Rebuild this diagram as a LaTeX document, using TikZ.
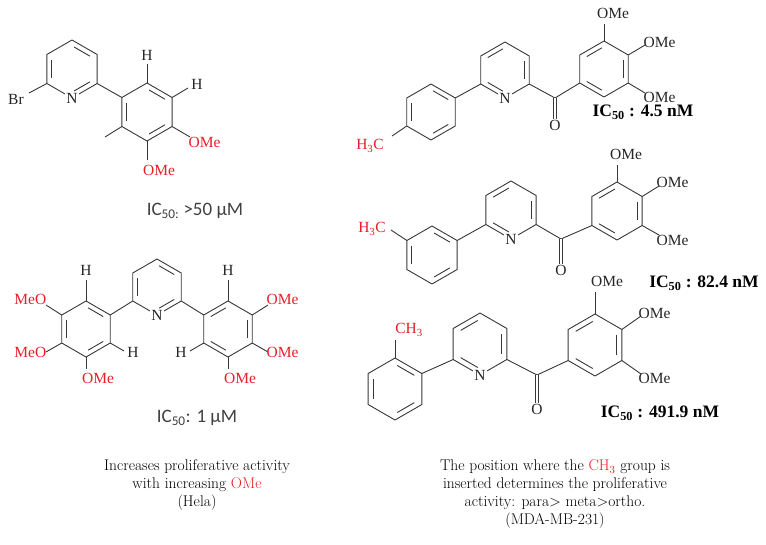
\documentclass[tikz,border=0pt]{standalone}
\usepackage{fontspec}
\usetikzlibrary{calc}
\newfontfamily\chemf{Liberation Serif}
\newfontfamily\capf{Carlito}
\definecolor{bondc}{RGB}{55,55,55}
\definecolor{chemred}{RGB}{232,30,40}
\tikzset{
 bond/.style={draw=bondc,line width=0.9pt},
 lab/.style={font=\chemf\fontsize{15.5}{16}\selectfont,text=black!85,inner sep=0.5pt},
 rlab/.style={lab,text=chemred},
 nlab/.style={lab,fill=white,inner sep=1pt},
 icb/.style={font=\chemf\bfseries\fontsize{17.5}{18}\selectfont,inner sep=0pt},
 icsans/.style={font=\capf\fontsize{19}{20}\selectfont,text=black!75,inner sep=0pt},
 capt/.style={font=\fontsize{15.5}{17.7}\selectfont,align=center,inner sep=0pt}
}
\newcommand\hexr[5]{%
 \coordinate (#1-c) at (#2,#3);
 \foreach \k in {0,...,5}{\coordinate (#1-\k) at ({#2+#4*sin(60*\k)},{#3-#4*cos(60*\k)});}
 \draw[bond,line join=round] (#1-0)--(#1-1)--(#1-2)--(#1-3)--(#1-4)--(#1-5)--cycle;
 \foreach \k in {#5}{\pgfmathtruncatemacro\kk{mod(\k+1,6)}%
  \draw[bond,shorten <=2.5pt,shorten >=2.5pt] ($(#1-c)!0.8!(#1-\k)$)--($(#1-c)!0.8!(#1-\kk)$);}
}
\begin{document}
\begin{tikzpicture}[x=1pt,y=-1pt]
\useasboundingbox (0,0) rectangle (766,544);
% ---------- molecule 1
\hexr{a}{72}{69}{29}{0,2,4}
\hexr{b}{147}{112}{29}{0,2,4}
\node[nlab] (aN) at (a-3) {N};
\draw[bond] (a-2)--(b-5);
\coordinate (aBr) at (29,93); \draw[bond] (a-4)--(aBr);
\node[lab] (Br) at (16,99) {Br};
\coordinate (bH1) at (147,64); \draw[bond] (b-0)--(bH1); \node[lab] at (147,55) {H};
\coordinate (bH2) at (188,88); \draw[bond] (b-1)--(bH2); \node[lab] at (197,84) {H};
\coordinate (bO1) at (190,137); \draw[bond] (b-2)--(bO1); \node[rlab,anchor=west] at (188,142) {OMe};
\coordinate (bO2) at (147,160); \draw[bond] (b-3)--(bO2); \node[rlab] at (159,170) {OMe};
\coordinate (bMe) at (105,137); \draw[bond] (b-4)--(bMe);
\node[icsans] at (195,211) {IC\textsubscript{50:} >50 μM};
% ---------- molecule 2
\hexr{p}{157}{287}{28}{0,2,4}
\hexr{l}{86}{329}{28}{0,2,4}
\hexr{r}{228}{329}{28}{1,3,5}
\node[nlab] at (p-3) {N};
\draw[bond] (p-4)--(l-1); \draw[bond] (p-2)--(r-5);
\coordinate (lH1) at (86,280); \draw[bond] (l-0)--(lH1); \node[lab] at (86,270) {H};
\coordinate (lO1) at (46,305); \draw[bond] (l-5)--(lO1); \node[rlab,anchor=east] at (47,299) {MeO};
\coordinate (lO2) at (46,352); \draw[bond] (l-4)--(lO2); \node[rlab,anchor=east] at (47,352) {MeO};
\coordinate (lO3) at (86,369); \draw[bond] (l-3)--(lO3); \node[rlab] at (98,378) {OMe};
\coordinate (lH2) at (124,351); \draw[bond] (l-2)--(lH2); \node[lab] at (133,352) {H};
\coordinate (rH1) at (228,280); \draw[bond] (r-0)--(rH1); \node[lab] at (228,270) {H};
\coordinate (rO1) at (268,305); \draw[bond] (r-1)--(rO1); \node[rlab,anchor=west] at (266,299) {OMe};
\coordinate (rO2) at (268,352); \draw[bond] (r-2)--(rO2); \node[rlab,anchor=west] at (266,352) {OMe};
\coordinate (rO3) at (228,369); \draw[bond] (r-3)--(rO3); \node[rlab] at (240,378) {OMe};
\coordinate (rH2) at (190,351); \draw[bond] (r-4)--(rH2); \node[lab] at (181,352) {H};
\node[icsans] at (197,418) {IC\textsubscript{50}: 1 μM};
% ---------- molecule A (para)
\hexr{ta}{431}{112}{28}{0,2,4}
\hexr{ya}{505}{70}{28}{1,3,5}
\hexr{ma}{604}{69}{28}{1,3,5}
\node[nlab] at (ya-3) {N};
\draw[bond] (ta-1)--(ya-4);
\coordinate (aC) at (555,98);
\draw[bond] (ya-2)--(aC)--(ma-4);
\node[lab] (aO) at (555,125) {O};
\draw[bond,double=white,double distance=2.4pt] (aC)--(aO);
\coordinate (taMe) at (392,136); \draw[bond] (ta-4)--(taMe);
\node[rlab] at (370,146) {H\textsubscript{3}C};
\coordinate (maO0) at (604,24); \draw[bond] (ma-0)--(maO0); \node[lab] at (613,13) {OMe};
\coordinate (maO1) at (645,45); \draw[bond] (ma-1)--(maO1); \node[lab,anchor=west] at (643,42) {OMe};
\coordinate (maO2) at (645,93); \draw[bond] (ma-2)--(maO2); \node[lab,anchor=west] at (643,97) {OMe};
\node[icb] at (643,112) {IC\textsubscript{50} : 4.5 nM};
% ---------- molecule B (meta)
\hexr{tb}{432}{255}{29}{0,2,4}
\hexr{yb}{511}{210}{29}{1,3,5}
\hexr{mb}{617}{211}{29}{1,3,5}
\node[nlab] at (yb-3) {N};
\draw[bond] (tb-1)--(yb-4);
\coordinate (bC) at (561,239);
\draw[bond] (yb-2)--(bC)--(mb-4);
\node[lab] (bO) at (561,270) {O};
\draw[bond,double=white,double distance=2.4pt] (bC)--(bO);
\coordinate (tbMe) at (391,230); \draw[bond] (tb-5)--(tbMe);
\node[rlab] at (372,229) {H\textsubscript{3}C};
\coordinate (mbO0) at (617,165); \draw[bond] (mb-0)--(mbO0); \node[lab] at (626,154) {OMe};
\coordinate (mbO1) at (659,186); \draw[bond] (mb-1)--(mbO1); \node[lab,anchor=west] at (656,182) {OMe};
\coordinate (mbO2) at (659,235); \draw[bond] (mb-2)--(mbO2); \node[lab,anchor=west] at (656,240) {OMe};
\node[icb] at (704,283) {IC\textsubscript{50} : 82.4 nM};
% ---------- molecule C (ortho)
\hexr{tc}{395}{389}{31}{0,2,4}
\hexr{yc}{480}{344}{31}{1,3,5}
\hexr{mc}{595}{345}{31}{1,3,5}
\node[nlab] at (yc-3) {N};
\draw[bond] (tc-1)--(yc-4);
\coordinate (cC) at (537,375);
\draw[bond] (yc-2)--(cC)--(mc-4);
\node[lab] (cO) at (537,409) {O};
\draw[bond,double=white,double distance=2.4pt] (cC)--(cO);
\coordinate (tcMe) at (395,340); \draw[bond] (tc-0)--(tcMe);
\node[rlab] at (409,330) {CH\textsubscript{3}};
\coordinate (mcO0) at (595,292); \draw[bond] (mc-0)--(mcO0); \node[lab] at (607,281) {OMe};
\coordinate (mcO1) at (641,316); \draw[bond] (mc-1)--(mcO1); \node[lab,anchor=west] at (638,313) {OMe};
\coordinate (mcO2) at (641,374); \draw[bond] (mc-2)--(mcO2); \node[lab,anchor=west] at (638,378) {OMe};
\node[icb] at (660,413) {IC\textsubscript{50} : 491.9 nM};
% ---------- captions
\node[capt] at (197,485) {Increases proliferative activity\\with increasing \textcolor{chemred}{OMe}\\(Hela)};
\node[capt] at (555,494) {The position where the \textcolor{chemred}{CH\textsubscript{3}} group is\\inserted determines the proliferative\\activity: para> meta>ortho.\\(MDA-MB-231)};
\end{tikzpicture}
\end{document}
